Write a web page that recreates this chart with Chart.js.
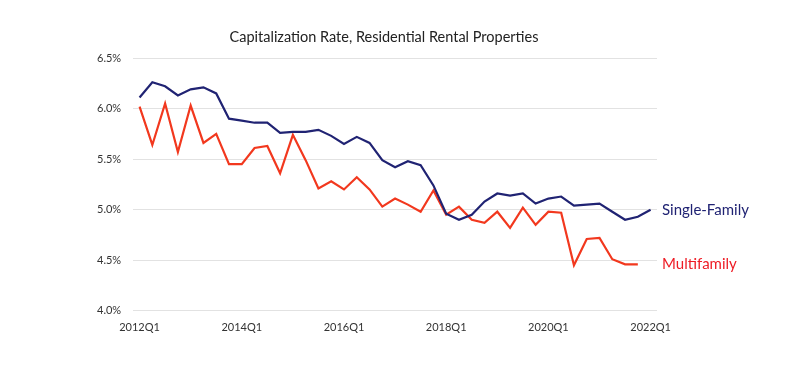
<!DOCTYPE html>
<html lang="en">

<head>
    <meta charset="UTF-8">
    <title>Capitalization Rate</title>
    <script src="https://cdn.jsdelivr.net/npm/chart.js"></script>
    <style>
        body { margin: 0; background: #fff; }
    </style>
</head>

<body>
    <canvas id="capRateChart" width="792" height="370"></canvas>

    <script>
        // quarters 2012Q1 .. 2022Q1
        const quarters = [];
        for (let y = 2012; y <= 2022; y++) {
            for (let q = 1; q <= 4; q++) {
                if (y === 2022 && q > 1) break;
                quarters.push(y + 'Q' + q);
            }
        }

        const singleFamily = [
            6.11, 6.26, 6.22, 6.13, 6.19, 6.21, 6.15, 5.90, 5.88, 5.86,
            5.86, 5.76, 5.77, 5.77, 5.79, 5.73, 5.65, 5.72, 5.66, 5.49,
            5.42, 5.48, 5.44, 5.24, 4.96, 4.90, 4.95, 5.08, 5.16, 5.14,
            5.16, 5.06, 5.11, 5.13, 5.04, 5.05, 5.06, 4.98, 4.90, 4.93,
            5.00
        ];
        const multifamily = [
            6.02, 5.64, 6.05, 5.57, 6.03, 5.66, 5.75, 5.45, 5.45, 5.61,
            5.63, 5.36, 5.74, 5.49, 5.21, 5.28, 5.20, 5.32, 5.20, 5.03,
            5.11, 5.05, 4.98, 5.19, 4.95, 5.03, 4.90, 4.87, 4.98, 4.82,
            5.02, 4.85, 4.98, 4.97, 4.45, 4.71, 4.72, 4.51, 4.46, 4.46
        ];

        const seriesNames = ['Single-Family', 'Multifamily'];
        const lineColors = ['#202373', '#f2381e'];
        const labelColors = ['#202373', '#ee1c25'];
        const yTicks = [4.0, 4.5, 5.0, 5.5, 6.0, 6.5];
        const titleText = 'Capitalization Rate, Residential Rental Properties';
        const fontFamily = 'Lato, "Open Sans", sans-serif';

        // title + series names next to the last point
        const annotations = {
            id: 'annotations',
            afterDatasetsDraw(chart) {
                const ctx = chart.ctx;
                const yScale = chart.scales.y;
                ctx.save();
                ctx.textBaseline = 'middle';

                ctx.font = '14.5px ' + fontFamily;
                ctx.textAlign = 'center';
                ctx.fillStyle = '#222';
                ctx.fillText(titleText, 384, 37);

                ctx.font = '15px ' + fontFamily;
                ctx.textAlign = 'left';
                chart.data.datasets.forEach((ds, i) => {
                    const last = ds.data[ds.data.length - 1];
                    ctx.fillStyle = labelColors[i];
                    ctx.fillText(seriesNames[i], chart.chartArea.right + 5, yScale.getPixelForValue(last));
                });
                ctx.restore();
            }
        };

        const ctx = document.getElementById('capRateChart').getContext('2d');
        new Chart(ctx, {
            type: 'line',
            data: {
                labels: quarters,
                datasets: [{
                    label: seriesNames[0],
                    data: singleFamily,
                    borderColor: lineColors[0],
                    borderWidth: 2.2,
                    pointRadius: 0,
                    tension: 0
                }, {
                    label: seriesNames[1],
                    data: multifamily,
                    borderColor: lineColors[1],
                    borderWidth: 2.2,
                    pointRadius: 0,
                    tension: 0
                }]
            },
            options: {
                responsive: false,
                animation: false,
                layout: { padding: { left: 85, right: 135, top: 58, bottom: 34 } },
                plugins: {
                    legend: { display: false },
                    tooltip: { enabled: false },
                    title: { display: false }
                },
                scales: {
                    x: {
                        offset: true,
                        grid: { display: false },
                        border: { display: false },
                        ticks: {
                            autoSkip: false,
                            maxRotation: 0,
                            padding: 2,
                            color: '#333',
                            font: { family: fontFamily, size: 11 },
                            callback: function (val, idx) {
                                return idx % 8 === 0 ? quarters[idx] : '';
                            }
                        }
                    },
                    y: {
                        min: yTicks[0],
                        max: yTicks[yTicks.length - 1],
                        afterBuildTicks: (axis) => { axis.ticks = yTicks.map(v => ({ value: v })); },
                        grid: { color: '#e2e2e2', drawTicks: false },
                        border: { display: false },
                        ticks: {
                            padding: 12,
                            color: '#333',
                            font: { family: fontFamily, size: 11 },
                            callback: (v) => v.toFixed(1) + '%'
                        }
                    }
                }
            },
            plugins: [annotations]
        });
    </script>
</body>

</html>
